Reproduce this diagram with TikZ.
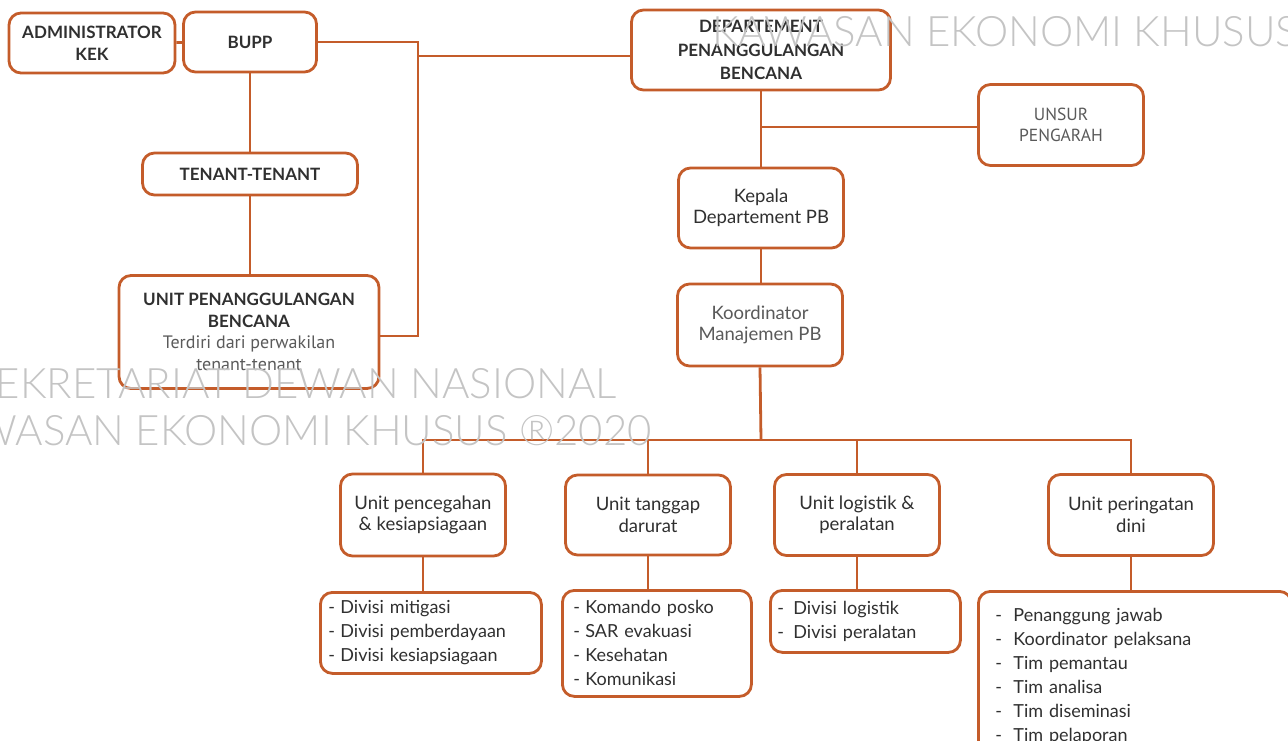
\documentclass[tikz,border=0pt]{standalone}
\usepackage{fontspec}
\setmainfont{Lato}
\newfontfamily\headfont{PT Sans}
\newfontfamily\thinfont{Lato Light}
\usepackage{tikz}
\definecolor{org}{RGB}{196,92,42}
\definecolor{ink}{RGB}{48,48,48}
\definecolor{soft}{RGB}{90,90,90}
\definecolor{wmark}{RGB}{196,196,196}
\newcommand{\drawlink}{\draw[org, line width=2.8pt]}
\newcommand{\dashitem}[2]{\makebox[#1][l]{-}#2}
\tikzset{
  unitbox/.style={draw=org, line width=2.8pt, rounded corners=12pt, fill=white,
    align=center, text=ink, inner sep=0pt, font=\fontsize{18.5}{21.5}\selectfont},
  headbox/.style={unitbox, font=\bfseries\fontsize{17}{22}\selectfont},
  listbox/.style={unitbox, align=left, anchor=north west, font=\fontsize{18}{24}\selectfont},
  wmtext/.style={text=wmark, font=\thinfont\fontsize{42}{48}\selectfont, inner sep=0pt}
}

\begin{document}
\begin{tikzpicture}[x=1pt, y=-1pt]
\useasboundingbox (0,0) rectangle (1288,741);
\clip (0,0) rectangle (1288,741);
% left side
\node[headbox, minimum width=166pt, minimum height=60pt] (admin) at (92,43) {ADMINISTRATOR\\KEK};
\node[headbox, minimum width=133pt, minimum height=60pt] (bupp) at (250,42) {BUPP};
\node[headbox, minimum width=215pt, minimum height=42pt] (tenant) at (250,174) {TENANT-TENANT};
\node[headbox, minimum width=260pt, minimum height=113pt, font=\bfseries\fontsize{17}{21.7}\selectfont] (upb) at (249,332)
  {UNIT PENANGGULANGAN\\BENCANA\\{\headfont\mdseries\fontsize{18}{21.7}\selectfont\color{soft}Terdiri dari perwakilan}\\{\headfont\mdseries\fontsize{18}{21.7}\selectfont\color{soft}tenant-tenant}};
% right side
\node[headbox, minimum width=259pt, minimum height=80pt, font=\bfseries\fontsize{17}{23.5}\selectfont] (dept) at (761,50) {DEPARTEMENT\\PENANGGULANGAN\\BENCANA};
\node[unitbox, minimum width=165pt, minimum height=81pt, text=soft, font=\headfont\fontsize{17.5}{21}\selectfont] (unsur) at (1061,125) {UNSUR\\PENGARAH};
\node[unitbox, minimum width=165pt, minimum height=80pt] (kepala) at (761,208) {Kepala\\Departement PB};
\node[unitbox, minimum width=165pt, minimum height=82pt, text=soft] (koord) at (760,325) {Koordinator\\Manajemen PB};
% units
\node[unitbox, minimum width=165pt, minimum height=82pt] (upc) at (423,515) {Unit pencegahan\\\& kesiapsiagaan};
\node[unitbox, minimum width=165pt, minimum height=80pt] (utd) at (648,515) {Unit tanggap\\darurat};
\node[unitbox, minimum width=165pt, minimum height=81pt] (ulp) at (857,515) {Unit logistik \&\\peralatan};
\node[unitbox, minimum width=165pt, minimum height=81pt] (upd) at (1131,515) {Unit peringatan\\dini};
% lists
\node[listbox, minimum width=221pt, minimum height=81pt, text width=205pt, inner xsep=8pt] (upc-list) at (319,591)
  {\dashitem{12pt}{Divisi mitigasi}\\\dashitem{12pt}{Divisi pemberdayaan}\\\dashitem{12pt}{Divisi kesiapsiagaan}};
\node[listbox, minimum width=189pt, minimum height=106pt, text width=167pt, inner xsep=11pt] (utd-list) at (561,589)
  {\dashitem{12pt}{Komando posko}\\\dashitem{12pt}{SAR evakuasi}\\\dashitem{12pt}{Kesehatan}\\\dashitem{12pt}{Komunikasi}};
\node[listbox, minimum width=190pt, minimum height=62pt, text width=176pt, inner xsep=7pt] (ulp-list) at (769,589)
  {\dashitem{16pt}{Divisi logistik}\\\dashitem{16pt}{Divisi peralatan}};
\node[listbox, minimum width=313pt, minimum height=170pt, text width=279pt, inner xsep=17pt] (upd-list) at (977,590)
  {\dashitem{18pt}{Penanggung jawab}\\\dashitem{18pt}{Koordinator pelaksana}\\\dashitem{18pt}{Tim pemantau}\\
   \dashitem{18pt}{Tim analisa}\\\dashitem{18pt}{Tim diseminasi}\\\dashitem{18pt}{Tim pelaporan}};
% connectors
\coordinate (bend) at (418,42);
\coordinate (jn) at (418,56);
\coordinate (bar) at (761,440);
\drawlink (admin) -- (bupp);
\drawlink (bupp) -- (tenant);
\drawlink (tenant.south) -- (tenant.south |- upb.north);
\drawlink (bupp.east) -- (bend) |- ([yshift=-4pt]upb.east);
\drawlink (jn) -- (jn -| dept.west);
\drawlink (dept) -- (kepala);
\drawlink ([yshift=-2pt]unsur.west -| dept.south) -- ([yshift=-2pt]unsur.west);
\drawlink (kepala.south) -- (kepala.south |- koord.north);
\drawlink (koord.south) -- (bar);
\foreach \u in {upc,utd,ulp,upd}{
  \drawlink (bar) -| (\u.north);
  \drawlink (\u.south) -- (\u.south |- \u-list.north);
}
% watermark
\node[wmtext, anchor=base west] (wm1) at (712,47) {KAWASAN EKONOMI KHUSUS};
\node[wmtext, anchor=base east] (wm2) at (617,398) {SEKRETARIAT DEWAN NASIONAL};
\node[wmtext, anchor=base east] (wm3) at (652,445) {KAWASAN EKONOMI KHUSUS ®2020};
\end{tikzpicture}
\end{document}
